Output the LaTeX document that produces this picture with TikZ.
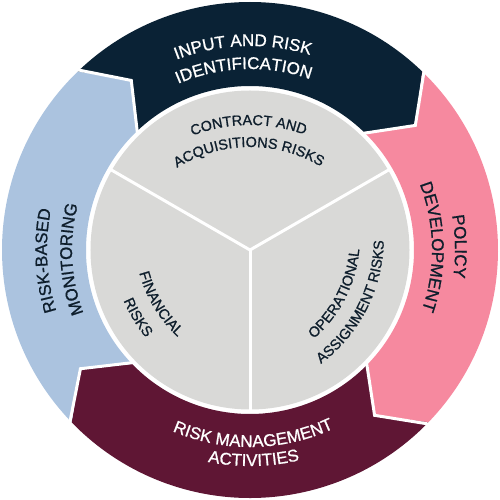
\documentclass[tikz,border=0pt]{standalone}
\usepackage{fontspec}
\setmainfont{Liberation Sans}
\newfontfamily\medfont{Liberation Sans}[FakeBold=0.9]
\usetikzlibrary{decorations.text}
\definecolor{navyseg}{HTML}{0A2235}
\definecolor{pinkseg}{HTML}{F6899F}
\definecolor{maroonseg}{HTML}{5F1634}
\definecolor{blueseg}{HTML}{ABC3DF}
\definecolor{grayin}{HTML}{D9D9D7}
\definecolor{darktext}{HTML}{0E1E2C}
\newcommand\ringwhite{\medfont\fontsize{17}{17}\selectfont\color{white}}
\newcommand\ringdark{\medfont\fontsize{17}{17}\selectfont\color{darktext}}
\newcommand\innerdark{\medfont\fontsize{14.5}{14.5}\selectfont\color{darktext}}
\tikzset{
  curved/.style={decorate, decoration={text along path, text align=center, text={#1}}},
  divider/.style={draw=white, line width=3pt},
  segedge/.style={draw=white, line width=3pt, line join=miter}
}
\begin{document}
\begin{tikzpicture}
\useasboundingbox (-250pt,-250pt) rectangle (250pt,250pt);
% ring segments: Ro=248, Rm=207, Ri=164
% navy: 134 -> 46
\fill[navyseg] (134:248pt) arc[start angle=134, end angle=46, radius=248pt] -- (37:207pt) -- (46:164pt)
  arc[start angle=46, end angle=134, radius=164pt] -- (125:207pt) -- cycle;
% pink: 46 -> -44
\fill[pinkseg] (46:248pt) arc[start angle=46, end angle=-44, radius=248pt] -- (-53:207pt) -- (-44:164pt)
  arc[start angle=-44, end angle=46, radius=164pt] -- (37:207pt) -- cycle;
% maroon: -44 -> -136
\fill[maroonseg] (-44:248pt) arc[start angle=-44, end angle=-136, radius=248pt] -- (-145:207pt) -- (-136:164pt)
  arc[start angle=-136, end angle=-44, radius=164pt] -- (-53:207pt) -- cycle;
% blue: -136 -> -226 (134)
\fill[blueseg] (-136:248pt) arc[start angle=-136, end angle=-226, radius=248pt] -- (-235:207pt) -- (-226:164pt)
  arc[start angle=-226, end angle=-136, radius=164pt] -- (-145:207pt) -- cycle;
% white boundaries
\path[segedge] (134:251pt) -- (125:207pt) -- (134:162pt);
\path[segedge] (46:251pt) -- (37:207pt) -- (46:162pt);
\path[segedge] (-44:251pt) -- (-53:207pt) -- (-44:162pt);
\path[segedge] (-136:251pt) -- (-145:207pt) -- (-136:162pt);
% inner gray circle
\node[circle, fill=grayin, minimum size=319pt, inner sep=0pt] (core) at (0pt,0pt) {};
\coordinate (d1) at (150:161pt);
\coordinate (d2) at (30:161pt);
\coordinate (d3) at (270:161pt);
\path[divider] (core.center) -- (d1);
\path[divider] (core.center) -- (d2);
\path[divider] (core.center) -- (d3);
% outer ring texts
\path[curved={|\ringwhite|INPUT AND RISK}] (137:204pt) arc[start angle=137, end angle=47, radius=204pt];
\path[curved={|\ringwhite|IDENTIFICATION}] (137:181pt) arc[start angle=137, end angle=47, radius=181pt];
\path[curved={|\ringdark|POLICY}] (46:205pt) arc[start angle=46, end angle=-44, radius=205pt];
\path[curved={|\ringdark|DEVELOPMENT}] (46:182pt) arc[start angle=46, end angle=-44, radius=182pt];
\path[curved={|\ringdark|RISK-BASED}] (228:203pt) arc[start angle=228, end angle=138, radius=203pt];
\path[curved={|\ringdark|MONITORING}] (228:178pt) arc[start angle=228, end angle=138, radius=178pt];
\path[curved={|\ringwhite|RISK MANAGEMENT}] (226:197pt) arc[start angle=226, end angle=316, radius=197pt];
\path[curved={|\ringwhite|ACTIVITIES}] (226:216pt) arc[start angle=226, end angle=316, radius=216pt];
% inner texts
\path[curved={|\innerdark|CONTRACT AND}] ([shift={(0pt,-35pt)}]140.5:160pt) arc[start angle=140.5, end angle=40.5, radius=160pt];
\path[curved={|\innerdark|ACQUISITIONS RISKS}] ([shift={(0pt,-35pt)}]140.5:138pt) arc[start angle=140.5, end angle=40.5, radius=138pt];
\path[curved={|\innerdark|FINANCIAL}] ([shift={(20.6pt,12.4pt)}]161:136pt) arc[start angle=161, end angle=261, radius=136pt];
\path[curved={|\innerdark|RISKS}] ([shift={(20.6pt,12.4pt)}]161:160pt) arc[start angle=161, end angle=261, radius=160pt];
\path[curved={|\innerdark|OPERATIONAL}] ([shift={(-23.2pt,11.8pt)}]-77:133pt) arc[start angle=-77, end angle=23, radius=133pt];
\path[curved={|\innerdark|ASSIGNMENT RISKS}] ([shift={(-23.2pt,11.8pt)}]-77:157pt) arc[start angle=-77, end angle=23, radius=157pt];
\end{tikzpicture}
\end{document}
